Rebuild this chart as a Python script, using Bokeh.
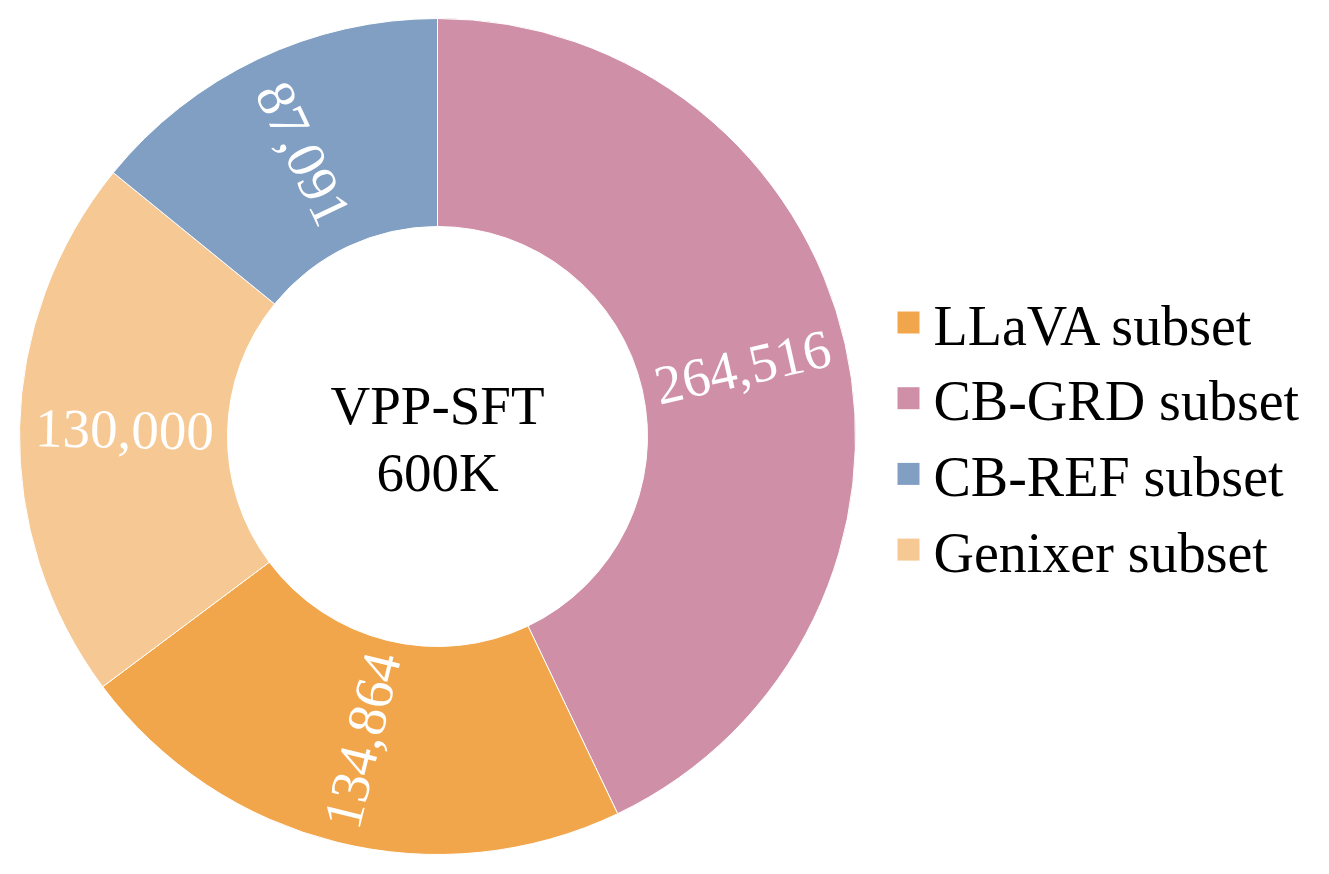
import math
from bokeh.plotting import figure
from bokeh.models import Range1d, ColumnDataSource
from bokeh.core.properties import value
from bokeh.embed import file_html
from bokeh.resources import INLINE

# ---- data ----
categories = ["CB-GRD subset", "LLaVA subset", "Genixer subset", "CB-REF subset"]
values = [264516, 134864, 130000, 87091]
colors = ["#CF90A7", "#F2A64B", "#F6C893", "#819FC3"]
legend_order = ["LLaVA subset", "CB-GRD subset", "CB-REF subset", "Genixer subset"]
center_lines = ["VPP-SFT", "600K"]

# ---- layout (screen pixel space; y is negated) ----
W, H = 1313, 858
CX, CY = 437, -436
R_OUT, R_IN, R_LAB = 418, 210, 313
FONT = value("Liberation Serif")
FS = "55px"
FS_LEG = "56px"

p = figure(width=W, height=H, x_range=Range1d(0, W), y_range=Range1d(-H, 0),
           output_backend="svg", toolbar_location=None, min_border=0,
           x_axis_type=None, y_axis_type=None)
p.grid.visible = False
p.outline_line_color = None
p.background_fill_color = "white"
p.border_fill_color = "white"

total = sum(values)
starts, ends, mids = [], [], []
cum = 0.0
for v in values:
    f0 = cum / total
    cum += v
    f1 = cum / total
    starts.append(math.pi / 2 - f0 * 2 * math.pi)
    ends.append(math.pi / 2 - f1 * 2 * math.pi)
    mids.append(math.pi / 2 - (f0 + f1) / 2 * 2 * math.pi)

src = ColumnDataSource(dict(start=starts, end=ends, color=colors))
p.annular_wedge(x=CX, y=CY, inner_radius=R_IN, outer_radius=R_OUT,
                start_angle="start", end_angle="end", direction="clock",
                fill_color="color", line_color="white", line_width=1, source=src)

# value labels, radial and kept readable
lx, ly, la, lt = [], [], [], []
for v, m in zip(values, mids):
    lx.append(CX + R_LAB * math.cos(m))
    ly.append(CY + R_LAB * math.sin(m))
    a = math.atan2(math.sin(m), math.cos(m))
    if a > math.pi / 2:
        a -= math.pi
    elif a <= -math.pi / 2:
        a += math.pi
    la.append(a)
    lt.append(f"{v:,}")
p.text(x=lx, y=ly, text=lt, angle=la, text_color="white", text_font=FONT,
       text_font_size=FS, text_align="center", text_baseline="middle")

# centre text
p.text(x=[CX, CX], y=[-405, -472], text=center_lines, text_color="black",
       text_font=FONT, text_font_size=FS, text_align="center",
       text_baseline="middle")

# legend (manual)
cmap = dict(zip(categories, colors))
LX, LY0, DY = 908, -322, 75.7
sq_x = [LX] * len(legend_order)
sq_y = [LY0 - i * DY for i in range(len(legend_order))]
p.scatter(x=sq_x, y=sq_y, marker="square", size=22,
          fill_color=[cmap[c] for c in legend_order], line_color=None)
p.text(x=[LX + 25] * len(legend_order), y=[y - 3 for y in sq_y], text=legend_order,
       text_color="black", text_font=FONT, text_font_size=FS_LEG,
       text_align="left", text_baseline="middle")

open("out.html", "w").write(file_html(p, INLINE))
